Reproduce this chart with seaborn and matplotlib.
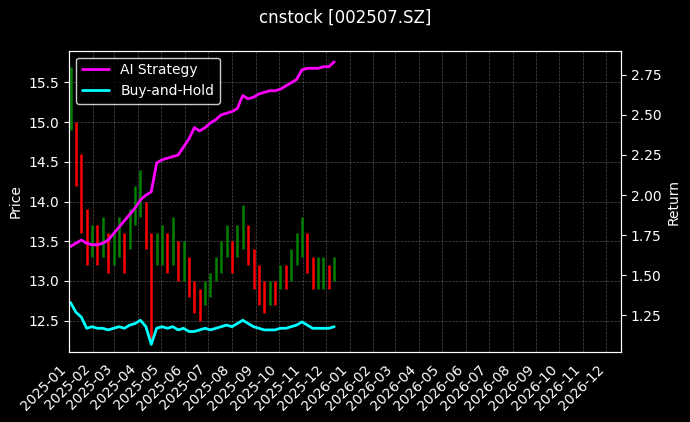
import pandas as pd
import numpy as np
import matplotlib
matplotlib.use('Agg')
import matplotlib.pyplot as plt
import matplotlib.dates as mdates
import seaborn as sns

sns.set_style('dark')
plt.style.use('dark_background')

cierre = [15.3, 14.6, 14.2, 13.5, 13.5, 13.4, 13.6, 13.3, 13.4, 13.6, 13.3, 13.6,
          13.9, 14.3, 13.7, 12.7, 13.4, 13.5, 13.3, 13.6, 13.2, 13.3, 13.0, 12.8,
          12.6, 12.9, 12.9, 13.1, 13.3, 13.5, 13.3, 13.5, 13.9, 13.4, 13.2, 13.0,
          12.8, 12.9, 12.8, 13.1, 13.0, 13.3, 13.4, 13.7, 13.3, 13.1, 13.1, 13.2, 13.0, 13.1]
alto = [15.7, 15.0, 14.6, 13.9, 13.7, 13.7, 13.8, 13.6, 13.6, 13.8, 13.6, 13.9,
        14.2, 14.4, 14.0, 13.6, 13.6, 13.7, 13.6, 13.8, 13.5, 13.5, 13.3, 13.0,
        12.9, 13.0, 13.1, 13.3, 13.5, 13.7, 13.5, 13.7, 13.95, 13.7, 13.4, 13.2,
        13.0, 13.0, 13.0, 13.2, 13.2, 13.4, 13.6, 13.8, 13.6, 13.3, 13.3, 13.3, 13.2, 13.3]
bajo = [14.9, 14.2, 13.6, 13.2, 13.3, 13.2, 13.3, 13.1, 13.2, 13.3, 13.1, 13.4,
        13.7, 13.8, 13.4, 12.2, 13.2, 13.2, 13.1, 13.2, 13.0, 13.0, 12.8, 12.6,
        12.5, 12.7, 12.8, 13.0, 13.1, 13.3, 13.1, 13.3, 13.4, 13.2, 12.9, 12.7,
        12.6, 12.7, 12.7, 12.9, 12.9, 13.0, 13.2, 13.3, 13.1, 12.9, 12.9, 12.9, 12.9, 13.0]
ia = [1.68, 1.70, 1.72, 1.70, 1.69, 1.69, 1.70, 1.72, 1.76, 1.80, 1.84, 1.88,
      1.92, 1.97, 2.00, 2.02, 2.20, 2.22, 2.23, 2.24, 2.25, 2.30, 2.35, 2.42,
      2.40, 2.42, 2.45, 2.47, 2.50, 2.51, 2.52, 2.54, 2.62, 2.60, 2.61, 2.63,
      2.64, 2.65, 2.65, 2.66, 2.68, 2.70, 2.72, 2.78, 2.79, 2.79, 2.79, 2.80, 2.80, 2.83]
bh = [1.33, 1.27, 1.24, 1.17, 1.18, 1.17, 1.17, 1.16, 1.17, 1.18, 1.17, 1.19,
      1.20, 1.22, 1.18, 1.07, 1.17, 1.18, 1.17, 1.18, 1.16, 1.17, 1.15, 1.15,
      1.16, 1.17, 1.16, 1.17, 1.18, 1.19, 1.18, 1.20, 1.22, 1.20, 1.18, 1.17,
      1.16, 1.16, 1.16, 1.17, 1.17, 1.18, 1.19, 1.21, 1.19, 1.17, 1.17, 1.17, 1.17, 1.18]

fechas = pd.date_range('2025-01-03', periods=len(cierre), freq='W-FRI')
cierre = np.array(cierre)
colores = ['green' if i == 0 or cierre[i] >= cierre[i - 1] else 'red' for i in range(len(cierre))]

fig, ax = plt.subplots(figsize=(6.9, 4.22), dpi=100)
fig.patch.set_facecolor('black')
ax.set_facecolor('black')
ax.vlines(fechas, bajo, alto, colors=colores, linewidth=1.8)
ax.set_ylim(12.1, 15.9)
ax.set_ylabel('Price')
ax.grid(True, color='gray', linestyle='--', linewidth=0.5, alpha=0.6)

ax2 = ax.twinx()
sns.lineplot(x=fechas, y=ia, ax=ax2, color='magenta', linewidth=2, label='AI Strategy')
sns.lineplot(x=fechas, y=bh, ax=ax2, color='cyan', linewidth=2, label='Buy-and-Hold')
ax2.set_ylim(1.02, 2.9)
ax2.set_ylabel('Return')
ax2.legend(loc='upper left', facecolor='black', edgecolor='white')

ax.set_xlim(pd.Timestamp('2025-01-01'), pd.Timestamp('2026-12-20'))
ax.xaxis.set_major_locator(mdates.MonthLocator())
ax.xaxis.set_major_formatter(mdates.DateFormatter('%Y-%m'))
plt.setp(ax.get_xticklabels(), rotation=45, ha='right')

fig.suptitle('cnstock [002507.SZ]')
fig.subplots_adjust(left=0.1, right=0.9, top=0.88, bottom=0.165)
fig.savefig('out.png', dpi=100)
